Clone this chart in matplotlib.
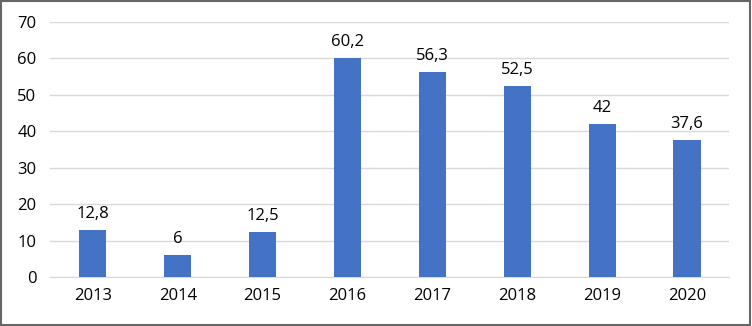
import matplotlib as mpl
mpl.use('Agg')
import matplotlib.pyplot as plt
from matplotlib.patches import Rectangle
import numpy as np

years = ['2013', '2014', '2015', '2016', '2017', '2018', '2019', '2020']
values = [12.8, 6, 12.5, 60.2, 56.3, 52.5, 42, 37.6]
labels = ['12,8', '6', '12,5', '60,2', '56,3', '52,5', '42', '37,6']

plt.rcParams['font.family'] = ['Open Sans', 'DejaVu Sans']

fig = plt.figure(figsize=(7.52, 3.26), dpi=100)
ax = fig.add_axes([0.067, 0.150, 0.903, 0.7825])

x = np.arange(len(years))
ax.bar(x, values, width=0.32, color='#4472C4', zorder=3)
for xi, v, lab in zip(x, values, labels):
    ax.text(xi, v + 2.2, lab, ha='center', va='bottom', fontsize=12, color='#000000')

ax.set_xlim(-0.5, len(years) - 0.5)
ax.set_ylim(0, 70)
ax.set_yticks(range(0, 71, 10))
ax.set_xticks(x)
ax.set_xticklabels(years)
ax.yaxis.grid(True, color='#D9D9D9', linewidth=1, zorder=0)
for s in ['top', 'right', 'left']:
    ax.spines[s].set_visible(False)
ax.spines['bottom'].set_color('#D9D9D9')
ax.tick_params(axis='both', length=0, labelsize=12, colors='#000000')
ax.tick_params(axis='y', pad=10)
ax.tick_params(axis='x', pad=8)

# outer border
fig.patches.append(Rectangle((0.001, 0.002), 0.997, 0.995, transform=fig.transFigure,
                             fill=False, edgecolor='#666666', linewidth=1.5))

plt.savefig('out.png', dpi=100)
